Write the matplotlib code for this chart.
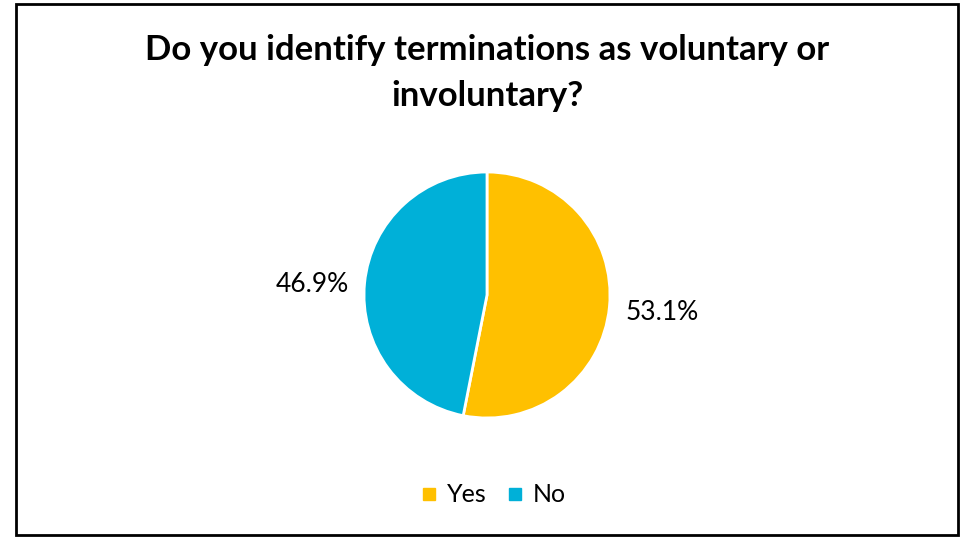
import matplotlib.pyplot as plt
from matplotlib.patches import Rectangle
from matplotlib.lines import Line2D

labels = ['Yes', 'No']
values = [53.1, 46.9]
colors = ['#FFC000', '#00B0D8']

plt.rcParams['font.family'] = ['Lato', 'DejaVu Sans']

fig = plt.figure(figsize=(9.63, 5.37), dpi=100)
fig.patches.append(Rectangle((16 / 963, 2 / 537), 942 / 963, 531 / 537, transform=fig.transFigure,
                             fill=False, edgecolor='black', linewidth=2))

fig.text(487 / 963, 1 - 73 / 537, 'Do you identify terminations as voluntary or\ninvoluntary?',
         ha='center', va='center', fontsize=25, fontweight='bold', linespacing=1.5)

# pie axis: centre (487, 295), radius ~123 px
r = 123
ax = fig.add_axes([(487 - r) / 963, 1 - (295 + r) / 537, 2 * r / 963, 2 * r / 537])
wedges, _ = ax.pie(values, colors=colors, startangle=90, counterclock=False, radius=1,
                   wedgeprops=dict(edgecolor='white', linewidth=2))
ax.set_xlim(-1, 1)
ax.set_ylim(-1, 1)
ax.set_aspect('equal')

fig.text(662 / 963, 1 - 312 / 537, '53.1%', ha='center', va='center', fontsize=19)
fig.text(312 / 963, 1 - 285 / 537, '46.9%', ha='center', va='center', fontsize=19)

handles = [Line2D([], [], marker='s', linestyle='', markersize=8, color=c) for c in colors]
fig.legend(handles, labels, loc='center', bbox_to_anchor=(493 / 963, 1 - 495 / 537),
           ncol=2, frameon=False, fontsize=18, handletextpad=0.35, columnspacing=0.8,
           handlelength=0.7)

fig.savefig('out.png', dpi=100)
